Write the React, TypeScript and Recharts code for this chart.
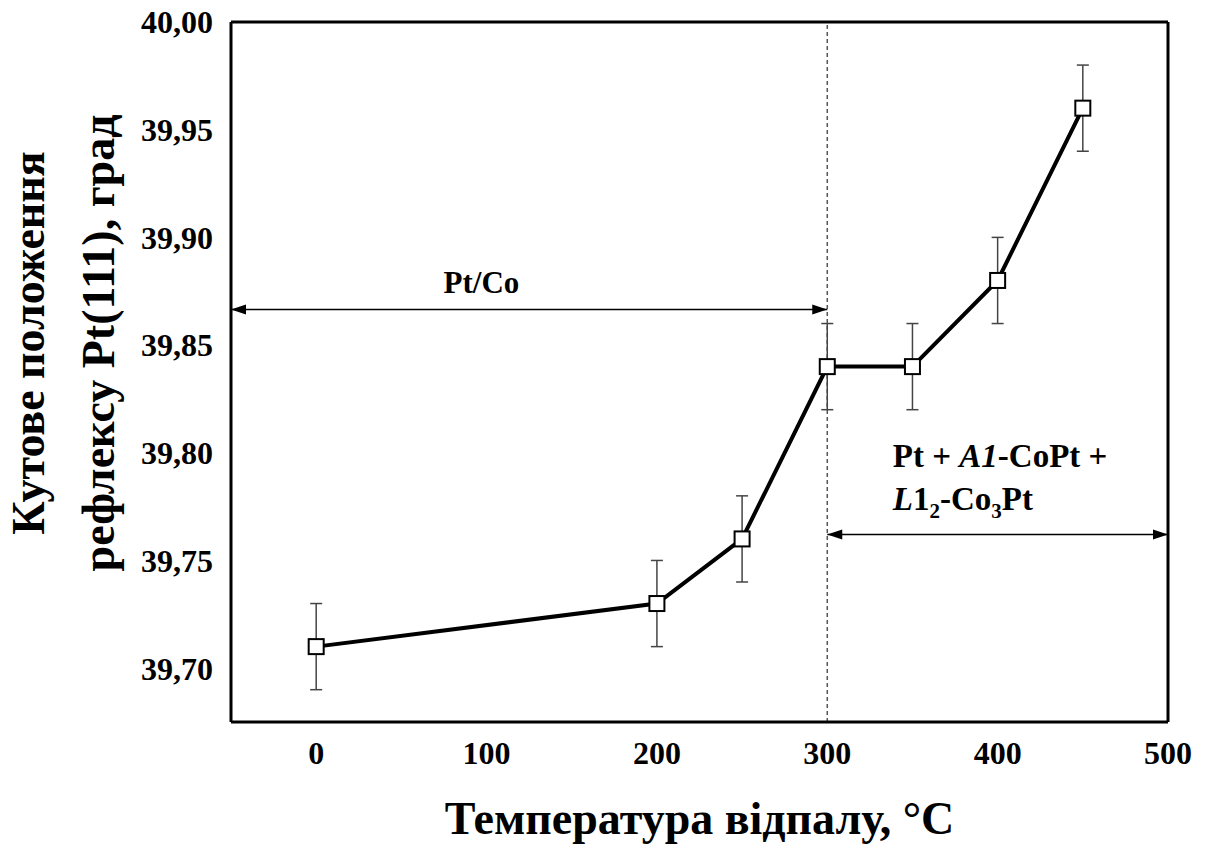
import React from 'react';
import { ComposedChart, Line, XAxis, YAxis, ErrorBar, ReferenceLine, ReferenceDot, Label } from 'recharts';

// annealing temperature, °C
const temps = [0, 200, 250, 300, 350, 400, 450];
// Pt(111) peak position, deg
const angles = [39.71, 39.73, 39.76, 39.84, 39.84, 39.88, 39.96];
const errors = [0.02, 0.02, 0.02, 0.02, 0.02, 0.02, 0.02];

const xMajor = [0, 100, 200, 300, 400, 500];
const xMinor = [50, 150, 250, 350, 450];
const yMajor = [39.7, 39.75, 39.8, 39.85, 39.9, 39.95, 40.0];
const yMinor = [39.725, 39.775, 39.825, 39.875, 39.925, 39.975];

const phaseBoundary = 300;
const arrowSpans = [[-50, 300], [300, 500]];
const arrowLevels = [39.8665, 39.762];

const FONT = '"Liberation Serif", "Times New Roman", serif';
const W = 1207;
const H = 846;

const data = temps.map((t, i) => ({ t, angle: angles[i], err: errors[i] }));

const fmtY = (v: number) => v.toFixed(2).replace('.', ',');

const Square = (p: any) => {
  if (p.cx == null || p.cy == null) return <g key={p.index} />;
  return (
    <rect key={p.index} x={p.cx - 7.5} y={p.cy - 7.5} width={15} height={15}
      fill="#fff" stroke="#000" strokeWidth={2} />
  );
};

const arrowHead = (dir: number) => (p: any) => (
  <polygon
    points={`${p.cx},${p.cy} ${p.cx - dir * 15},${p.cy - 5} ${p.cx - dir * 15},${p.cy + 5}`}
    fill="#000"
  />
);

const ann = { fontFamily: FONT, fontWeight: 'bold', fill: '#000' } as const;

const YTitle = (props: any) => {
  const vb = props.viewBox || { x: 0, y: 22, height: 700 };
  const cy = vb.y + vb.height / 2 - 29;
  return (
    <g>
      <text x={44} y={cy} textAnchor="middle" fontFamily={FONT} fontWeight="bold" fontSize={46} fill="#000"
        transform={`rotate(-90, 44, ${cy})`}>Кутове положення</text>
      <text x={114} y={cy} textAnchor="middle" fontFamily={FONT} fontWeight="bold" fontSize={46} fill="#000"
        transform={`rotate(-90, 114, ${cy})`}>рефлексу Pt(111), град</text>
    </g>
  );
};

const XTitle = (props: any) => {
  const vb = props.viewBox || { x: 231, y: 722, width: 937 };
  return (
    <text x={vb.x + vb.width / 2} y={834} textAnchor="middle"
      fontFamily={FONT} fontWeight="bold" fontSize={46} fill="#000">
      Температура відпалу, °C
    </text>
  );
};

export default function App() {
  const axisStroke = { stroke: '#000', strokeWidth: 3 };
  const tickStroke = { stroke: '#000', strokeWidth: 2 };
  const tickText = { fill: '#000', fontSize: 32, fontWeight: 'bold', fontFamily: FONT };
  return (
    <div style={{ position: 'absolute', left: 0, top: 0, width: W, height: H, background: '#fff' }}>
      <ComposedChart width={W} height={H} data={data} margin={{ top: 22, right: 39, left: 0, bottom: 0 }}>
        {/* labelled axes */}
        <XAxis xAxisId="b" dataKey="t" type="number" domain={[-50, 500]} allowDataOverflow
          ticks={xMajor} interval={0} tickLine={false} tickSize={0} tickMargin={19} height={124}
          axisLine={axisStroke} tick={tickText}>
          <Label content={<XTitle />} />
        </XAxis>
        <YAxis yAxisId="l" type="number" domain={[39.675, 40.0]} allowDataOverflow
          ticks={yMajor} interval={0} tickLine={false} tickSize={0} tickMargin={18} width={231}
          axisLine={axisStroke} tickFormatter={fmtY} tick={tickText}>
          <Label content={<YTitle />} />
        </YAxis>

        {/* inward tick marks */}
        <XAxis xAxisId="bMaj" type="number" domain={[-50, 500]} allowDataOverflow mirror ticks={xMajor}
          interval={0} tick={false} tickSize={12} tickLine={tickStroke} axisLine={false} />
        <XAxis xAxisId="bMin" type="number" domain={[-50, 500]} allowDataOverflow mirror ticks={xMinor}
          interval={0} tick={false} tickSize={7} tickLine={tickStroke} axisLine={false} />
        <XAxis xAxisId="tMaj" orientation="top" type="number" domain={[-50, 500]} allowDataOverflow mirror
          ticks={xMajor} interval={0} tick={false} tickSize={12} tickLine={tickStroke} axisLine={axisStroke} />
        <XAxis xAxisId="tMin" orientation="top" type="number" domain={[-50, 500]} allowDataOverflow mirror
          ticks={xMinor} interval={0} tick={false} tickSize={7} tickLine={tickStroke} axisLine={false} />
        <YAxis yAxisId="lMaj" type="number" domain={[39.675, 40.0]} allowDataOverflow mirror ticks={yMajor}
          interval={0} tick={false} tickSize={12} tickLine={tickStroke} axisLine={false} />
        <YAxis yAxisId="lMin" type="number" domain={[39.675, 40.0]} allowDataOverflow mirror ticks={yMinor}
          interval={0} tick={false} tickSize={7} tickLine={tickStroke} axisLine={false} />
        <YAxis yAxisId="rMaj" orientation="right" type="number" domain={[39.675, 40.0]} allowDataOverflow mirror
          ticks={yMajor} interval={0} tick={false} tickSize={12} tickLine={tickStroke} axisLine={axisStroke} />
        <YAxis yAxisId="rMin" orientation="right" type="number" domain={[39.675, 40.0]} allowDataOverflow mirror
          ticks={yMinor} interval={0} tick={false} tickSize={7} tickLine={tickStroke} axisLine={false} />

        <ReferenceLine xAxisId="b" yAxisId="l" x={phaseBoundary} stroke="#555" strokeWidth={1.5}
          strokeDasharray="4 3" />

        {arrowSpans.map((span, i) => (
          <ReferenceLine key={`a${i}`} xAxisId="b" yAxisId="l" ifOverflow="visible"
            segment={[{ x: span[0], y: arrowLevels[i] }, { x: span[1], y: arrowLevels[i] }]}
            stroke="#000" strokeWidth={1.5} />
        ))}
        {arrowSpans.map((span, i) => (
          <ReferenceDot key={`l${i}`} xAxisId="b" yAxisId="l" ifOverflow="visible"
            x={span[0]} y={arrowLevels[i]} r={0} shape={arrowHead(-1)} />
        ))}
        {arrowSpans.map((span, i) => (
          <ReferenceDot key={`r${i}`} xAxisId="b" yAxisId="l" ifOverflow="visible"
            x={span[1]} y={arrowLevels[i]} r={0} shape={arrowHead(1)} />
        ))}

        <ReferenceDot xAxisId="b" yAxisId="l" x={97} y={39.874} r={0} ifOverflow="visible"
          shape={(p: any) => (
            <text x={p.cx} y={p.cy} textAnchor="middle" fontSize={31} {...ann}>Pt/Co</text>
          )} />
        <ReferenceDot xAxisId="b" yAxisId="l" x={338.5} y={39.7932} r={0} ifOverflow="visible"
          shape={(p: any) => (
            <text x={p.cx} y={p.cy} fontSize={33} {...ann} style={{ whiteSpace: 'pre' }}>
              {'Pt + '}<tspan fontStyle="italic">A1</tspan>{'-CoPt +'}
            </text>
          )} />
        <ReferenceDot xAxisId="b" yAxisId="l" x={338.5} y={39.7732} r={0} ifOverflow="visible"
          shape={(p: any) => (
            <text x={p.cx} y={p.cy} fontSize={33} {...ann}>
              <tspan fontStyle="italic">L</tspan>1<tspan fontSize={21} dy={8}>2</tspan>
              <tspan dy={-8}>-Co</tspan><tspan fontSize={21} dy={8}>3</tspan><tspan dy={-8}>Pt</tspan>
            </text>
          )} />

        <Line xAxisId="b" yAxisId="l" type="linear" dataKey="angle" stroke="#000" strokeWidth={4}
          dot={Square} activeDot={false} isAnimationActive={false}>
          <ErrorBar dataKey="err" direction="y" width={6} stroke="#444" strokeWidth={1.5} />
        </Line>
      </ComposedChart>
    </div>
  );
}
